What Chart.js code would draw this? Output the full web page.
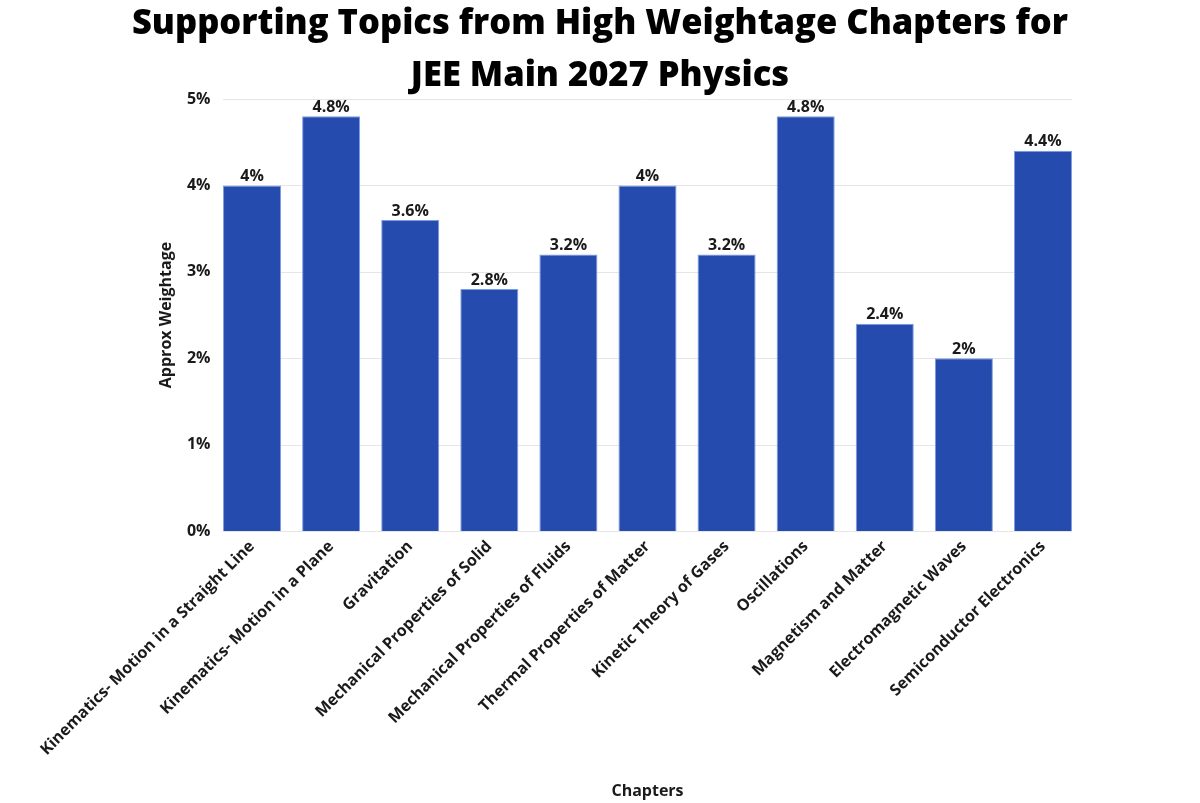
<!DOCTYPE html>
<html><head><meta charset="utf-8">
<script src="https://cdn.jsdelivr.net/npm/chart.js@4"></script>
<style>html,body{margin:0;padding:0;background:#fff}#wrap{width:1200px;height:803px}</style>
</head><body><div id="wrap"><canvas id="c" width="1200" height="803"></canvas></div>
<script>
const titleLines = ["Supporting Topics from High Weightage Chapters for", "JEE Main 2027 Physics"];
const categories = ["Kinematics- Motion in a Straight Line","Kinematics- Motion in a Plane","Gravitation","Mechanical Properties of Solid","Mechanical Properties of Fluids","Thermal Properties of Matter","Kinetic Theory of Gases","Oscillations","Magnetism and Matter","Electromagnetic Waves","Semiconductor Electronics"];
const weightage = [4, 4.8, 3.6, 2.8, 3.2, 4, 3.2, 4.8, 2.4, 2, 4.4];
const yTicks = [0, 1, 2, 3, 4, 5];
const FONT = "'Open Sans', sans-serif";

const titlePlugin = {
  id: 'bigTitle',
  afterDraw(chart) {
    const ctx = chart.ctx;
    ctx.save();
    ctx.font = "800 36px " + FONT;
    const w = ctx.measureText(titleLines[0]).width;
    const size = Math.min(38, 36 * 935 / w);
    ctx.font = "800 " + size.toFixed(1) + "px " + FONT;
    ctx.fillStyle = '#000';
    ctx.textAlign = 'center';
    ctx.textBaseline = 'alphabetic';
    ctx.fillText(titleLines[0], 600, 34);
    ctx.fillText(titleLines[1], 600, 86);
    ctx.restore();
  }
};

const gridPlugin = {
  id: 'grid',
  beforeDatasetsDraw(chart) {
    const ctx = chart.ctx;
    const meta = chart.getDatasetMeta(0);
    const first = meta.data[0], last = meta.data[meta.data.length - 1];
    const x0 = first.x - first.width / 2, x1 = last.x + last.width / 2;
    const ys = chart.scales.y;
    ctx.save();
    ctx.strokeStyle = '#e6e6e6';
    ctx.lineWidth = 1;
    yTicks.forEach(v => {
      const y = Math.round(ys.getPixelForValue(v)) + 0.5;
      ctx.beginPath(); ctx.moveTo(x0, y); ctx.lineTo(x1, y); ctx.stroke();
    });
    ctx.restore();
  }
};

const labelPlugin = {
  id: 'vals',
  afterDatasetsDraw(chart) {
    const ctx = chart.ctx;
    const meta = chart.getDatasetMeta(0);
    ctx.save();
    ctx.font = "bold 16px " + FONT;
    ctx.fillStyle = "#1a1a1a";
    ctx.textAlign = "center";
    ctx.textBaseline = "bottom";
    meta.data.forEach((bar, i) => {
      ctx.fillText(weightage[i] + "%", bar.x, bar.y - 1);
    });
    ctx.restore();
  }
};

new Chart(document.getElementById('c'), {
  type: 'bar',
  data: {
    labels: categories,
    datasets: [{
      data: weightage,
      backgroundColor: '#244bad',
      borderColor: '#7f9be0',
      borderWidth: 1,
      barPercentage: 0.734,
      categoryPercentage: 1.0
    }]
  },
  options: {
    responsive: false,
    animation: false,
    layout: { padding: { left: 157, right: 117.5, top: 99, bottom: 0 } },
    plugins: {
      legend: { display: false },
      tooltip: { enabled: false },
      title: { display: false }
    },
    scales: {
      x: {
        grid: { display: false, drawTicks: false },
        border: { display: false },
        ticks: {
          color: '#1a1a1a',
          font: { family: FONT, size: 16, weight: 'bold' },
          maxRotation: 45, minRotation: 45, padding: 6
        },
        title: {
          display: true, text: 'Chapters', color: '#1a1a1a',
          font: { family: FONT, size: 16, weight: 'bold' },
          padding: { top: 10, bottom: 2 }
        },
        afterFit(s) { s.height = 272; }
      },
      y: {
        min: 0, max: 5,
        afterBuildTicks(s) { s.ticks = yTicks.map(v => ({ value: v })); },
        grid: { display: false, drawTicks: false },
        border: { display: false },
        ticks: {
          color: '#1a1a1a',
          font: { family: FONT, size: 16, weight: 'bold' },
          padding: 2,
          callback: v => v + '%'
        },
        title: {
          display: true, text: 'Approx Weightage', color: '#1a1a1a',
          font: { family: FONT, size: 16, weight: 'bold' },
          padding: { top: 0, bottom: 8 }
        },
        afterFit(s) { s.width = 55.5; }
      }
    }
  },
  plugins: [gridPlugin, labelPlugin, titlePlugin]
});
</script>
</body></html>
